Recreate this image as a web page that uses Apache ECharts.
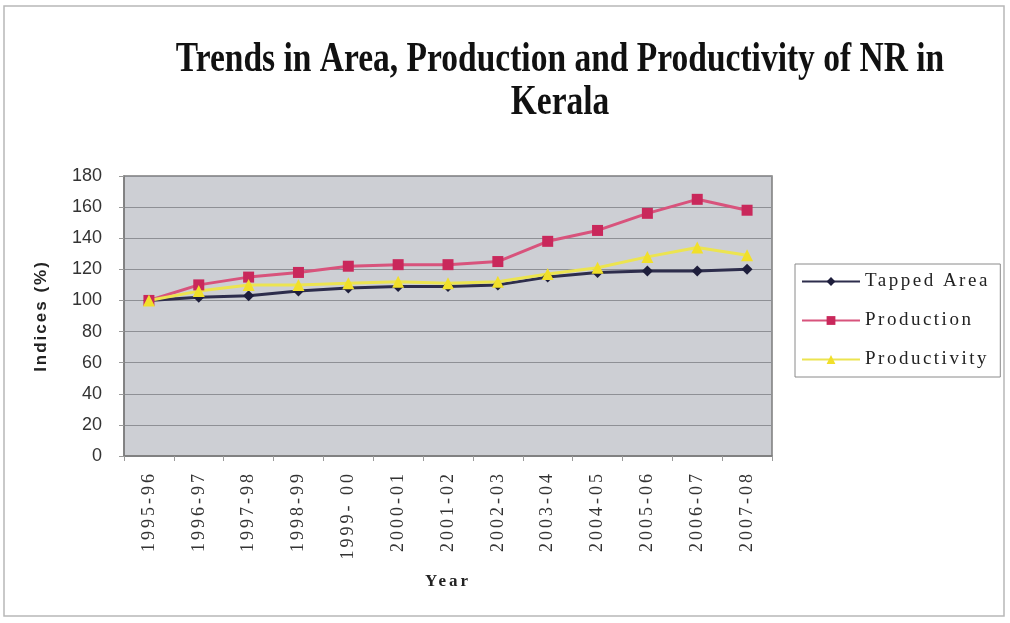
<!DOCTYPE html>
<html>
<head>
<meta charset="utf-8">
<script src="https://cdn.jsdelivr.net/npm/echarts@6/dist/echarts.min.js"></script>
<style>
  html, body { margin: 0; padding: 0; background: #ffffff; }
  #chart { width: 1010px; height: 623px; }
</style>
</head>
<body>
<div id="chart"></div>
<script>
// Crop years
const years = ['1995-96', '1996-97', '1997-98', '1998-99', '1999- 00', '2000-01', '2001-02',
  '2002-03', '2003-04', '2004-05', '2005-06', '2006-07', '2007-08'];

// Indices (%), base year 1995-96 = 100
const tappedArea   = [100, 102, 103, 106, 108, 109, 109, 110, 115, 118, 119, 119, 120];
const production   = [100, 110, 115, 118, 122, 123, 123, 125, 138, 145, 156, 165, 158];
const productivity = [100, 106, 110, 110, 111, 112, 111, 112, 117, 121, 128, 134, 129];

const seriesNames = ['Tapped Area', 'Production', 'Productivity'];
const titleLines = ['Trends in Area, Production and Productivity of NR in', 'Kerala'];

const serif = 'Liberation Serif';
const sans = 'Liberation Sans';

// Letter tracking for the widely spaced labels (canvas letterSpacing)
function trackingFor(text) {
  if (years.indexOf(text) >= 0) return '3px';
  if (seriesNames.indexOf(text) >= 0) return '2.5px';
  if (text === 'Year') return '3px';
  if (text === 'Indices (%)') return '2px';
  return '0px';
}
(function () {
  const proto = CanvasRenderingContext2D.prototype;
  const fill = proto.fillText;
  proto.fillText = function (text, x, y, maxWidth) {
    const prev = this.letterSpacing;
    this.letterSpacing = trackingFor(String(text));
    if (maxWidth === undefined) fill.call(this, text, x, y);
    else fill.call(this, text, x, y, maxWidth);
    this.letterSpacing = prev;
  };
})();

const chart = echarts.init(document.getElementById('chart'));

function lineSeries(name, data, lineColor, markColor, symbol, size) {
  return {
    name: name,
    type: 'line',
    data: data,
    symbol: symbol,
    symbolSize: size,
    lineStyle: { color: lineColor, width: 3 },
    itemStyle: { color: markColor },
    emphasis: { disabled: true },
    animation: false
  };
}

function titleText(text, y) {
  return {
    type: 'text',
    x: 560,
    y: y,
    scaleY: 1.25,
    silent: true,
    style: {
      text: text,
      fontFamily: serif,
      fontWeight: 'bold',
      fontSize: 33.5,
      fill: '#111111',
      align: 'center',
      verticalAlign: 'middle',
      textAlign: 'center',
      textVerticalAlign: 'middle'
    }
  };
}

chart.setOption({
  backgroundColor: '#ffffff',
  animation: false,
  legend: {
    orient: 'vertical',
    left: 795,
    top: 264,
    itemWidth: 58,
    itemHeight: 11,
    itemGap: 20,
    padding: [8, 38, 8, 6],
    borderColor: '#8a8a8a',
    borderWidth: 1,
    backgroundColor: '#ffffff',
    textStyle: { fontFamily: serif, fontSize: 19, color: '#222222' },
    data: seriesNames
  },
  grid: {
    left: 124,
    top: 176,
    width: 648,
    height: 280,
    show: true,
    backgroundColor: '#cdcfd4',
    borderColor: '#7c7c7c',
    borderWidth: 1.5
  },
  xAxis: {
    type: 'category',
    data: years,
    boundaryGap: true,
    name: 'Year',
    nameLocation: 'middle',
    nameGap: 117,
    nameTextStyle: { fontFamily: serif, fontWeight: 'bold', fontSize: 17, color: '#222222' },
    axisLine: { show: true, lineStyle: { color: '#7c7c7c', width: 1.5 } },
    axisTick: { show: true, length: 5, lineStyle: { color: '#9a9a9a' } },
    axisLabel: {
      rotate: 90,
      margin: 15,
      fontFamily: serif,
      fontSize: 18,
      color: '#333333'
    },
    splitLine: { show: false }
  },
  yAxis: {
    type: 'value',
    min: 0,
    max: 180,
    interval: 20,
    name: 'Indices (%)',
    nameLocation: 'middle',
    nameRotate: 90,
    nameGap: 74,
    nameTextStyle: { fontFamily: sans, fontWeight: 'bold', fontSize: 17, color: '#222222' },
    axisLine: { show: true, lineStyle: { color: '#7c7c7c', width: 1.5 } },
    axisTick: { show: true, length: 5, lineStyle: { color: '#9a9a9a' } },
    axisLabel: { fontFamily: sans, fontSize: 18, color: '#333333', margin: 22 },
    splitLine: { show: true, lineStyle: { color: '#8e9095', width: 1 } }
  },
  graphic: [
    {
      type: 'rect',
      shape: { x: 4, y: 6, width: 1000, height: 610 },
      style: { fill: 'none', stroke: '#b8b8b8', lineWidth: 1.5 },
      silent: true,
      z: -1
    },
    titleText(titleLines[0], 60),
    titleText(titleLines[1], 103)
  ],
  series: [
    lineSeries(seriesNames[0], tappedArea, '#2d2d4c', '#1e1e3c', 'diamond', 11),
    lineSeries(seriesNames[1], production, '#d8537c', '#c9285b', 'rect', 11),
    lineSeries(seriesNames[2], productivity, '#ece450', '#f1df2a', 'triangle', 12)
  ]
});
</script>
</body>
</html>
